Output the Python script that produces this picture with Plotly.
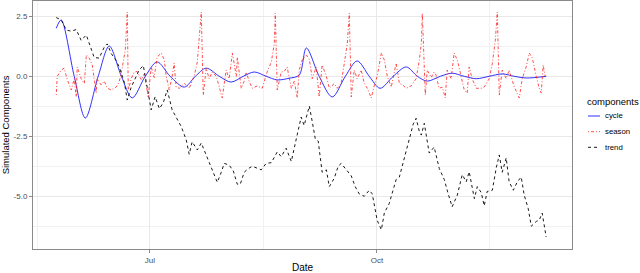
import pandas as pd
import plotly.graph_objects as go

# ---------------- data ----------------
start_date = "2017-05-24"   # day 0

cycle_day = [0.0, 2.0, 7.3, 11.8, 17.0, 21.5, 26.4, 30.8, 36.1, 40.9, 46.2, 51.9, 56.4, 60.8,
             66.1, 70.9, 75.8, 80.3, 85.1, 89.6, 94.4, 98.5, 101.4, 106.6, 111.9, 117.2, 122.0,
             126.9, 131.3, 136.6, 141.9, 146.4, 150.4, 155.7, 160.5, 165.4, 170.3, 175.5, 180.8,
             185.7, 190.5, 198.6]
cycle_val = [2.0, 2.35, 0.0, -1.74, 0.0, 1.26, 0.0, -0.9, 0.0, 0.6, 0.0, -0.45, 0.0, 0.34,
             0.0, -0.24, 0.0, 0.18, 0.0, -0.15, -0.08, 0.05, 1.18, 0.0, -0.86, 0.0, 0.64,
             0.0, -0.5, 0.0, 0.39, 0.0, -0.2, 0.0, 0.13, 0.0, -0.1, 0.0, 0.1,
             0.0, -0.07, 0.0]

season_day = [0.0, 0.4, 2.0, 3.2, 4.5, 6.1, 7.3, 8.1, 8.5, 10.1, 11.4, 12.2, 13.4, 14.6, 16.2,
              16.6, 18.2, 19.5, 20.7, 22.3, 24.3, 25.5, 26.8, 28.0, 28.8, 29.2, 30.4, 31.6,
              32.8, 34.5, 35.7, 37.3, 38.5, 39.7, 40.9, 42.6, 43.8, 44.6, 45.8, 47.0, 47.8,
              48.6, 49.9, 51.9, 53.9, 55.9, 57.2, 58.0, 58.8, 59.6, 60.8, 62.0, 63.2, 64.9,
              66.1, 67.3, 68.9, 70.1, 71.4, 73.0, 73.4, 75.0, 76.2, 77.0, 78.2, 79.5, 81.5,
              83.5, 85.5, 87.2, 88.4, 88.8, 89.6, 91.2, 92.4, 93.6, 95.3, 96.5, 97.7, 98.5,
              99.7, 101.4, 102.6, 103.8, 105.4, 106.6, 107.8, 109.5, 110.7, 112.7, 113.9,
              115.5, 116.8, 118.0, 118.8, 119.6, 120.8, 122.0, 123.6, 124.9, 126.1, 127.7,
              128.9, 130.1, 131.8, 133.0, 134.2, 135.8, 137.8, 139.1, 140.3, 141.9, 143.9,
              145.9, 147.2, 148.0, 148.4, 149.6, 150.4, 152.0, 153.2, 154.0, 155.2, 156.5,
              157.7, 158.5, 160.1, 161.3, 162.6, 164.2, 165.4, 166.6, 167.4, 168.6, 170.3,
              172.3, 173.5, 175.5, 176.8, 178.0, 178.8, 179.6, 180.8, 182.4, 183.6, 185.7,
              187.7, 188.9, 190.5, 191.8, 193.0, 194.6, 195.8, 196.6, 197.4, 198.2]
season_val = [-0.78, 0.0, 0.26, 0.34, -0.15, -0.57, -0.1, -0.86, 0.39, -0.1, -0.3, 0.89, 0.76, 0.47, -0.7,
              -0.1, -0.36, -0.2, -0.5, -0.57, -0.45, -0.25, 0.39, 1.1, 2.68, -0.57, -0.1, 0.18,
              0.2, -0.15, 0.1, -0.86, 0.39, -0.05, 0.8, 0.97, 0.68, 0.0, -0.57, 0.0, 0.55,
              -0.45, -0.5, -0.3, -0.5, 0.0, 0.6, 1.8, 2.68, -0.78, 0.34, -0.1, 0.18, 0.0,
              -0.5, -0.9, 0.26, -0.1, 0.97, 0.0, 0.8, -0.5, -0.2, 0.18, -0.2, -0.5, -0.4,
              -0.5, 0.18, 0.6, 1.37, 2.63, -0.57, 0.18, 0.2, 0.39, -0.5, -0.2, -0.9, 0.26,
              0.68, 0.89, 0.7, -0.1, 0.39, -0.86, 0.47, 0.0, -0.5, -0.3, -0.5,
              -0.3, 0.55, 1.37, 2.63, -0.86, 0.26, -0.1, 0.26, -0.3, -0.5, -0.9,
              -0.4, 0.0, 0.97, 0.68, 0.0, -0.45, 0.55, -0.3, -0.35, -0.5, -0.4,
              -0.1, 0.68, 1.37, 2.63, -0.78, 0.26, -0.05, 0.18, 0.05, -0.5, -0.45,
              -0.9, 0.26, -0.1, 0.97, 0.68, 0.0, -0.57, -0.7, 0.39, -0.1, -0.5,
              -0.5, -0.45, -0.1, 0.55, 1.5, 2.68, -0.78, 0.26, -0.1, 0.26, -0.45,
              -0.9, -0.1, 0.39, 0.97, 0.76, 0.0, -0.5, -0.7, 0.47, 0.0]

trend_day = [0.0, 2.0, 4.1, 6.1, 8.1, 10.1, 12.2, 14.2, 15.4, 17.4, 19.5, 20.7, 22.3, 24.3, 25.5,
             27.6, 28.8, 30.4, 32.4, 33.6, 35.3, 36.9, 38.5, 40.1, 41.8, 43.4, 45.0, 47.0, 49.1,
             50.7, 52.7, 53.9, 55.1, 57.2, 58.8, 60.4, 62.0, 63.6, 65.3, 66.9, 68.1, 70.1, 71.8,
             73.4, 74.6, 76.2, 77.8, 79.5, 81.5, 83.1, 85.1, 87.2, 89.6, 91.2, 93.2, 95.3, 96.9,
             98.1, 99.3, 100.5, 102.6, 103.8, 105.0, 106.2, 107.8, 109.5, 110.7, 112.7, 114.3,
             115.5, 117.6, 119.6, 121.2, 122.8, 124.9, 126.9, 128.1, 128.9, 130.1, 131.8, 133.0,
             135.0, 136.6, 137.8, 139.1, 141.1, 143.1, 144.7, 145.9, 147.2, 148.0, 149.2, 151.2,
             153.2, 155.3, 157.3, 158.9, 160.5, 162.6, 164.6, 166.2, 167.4, 169.5, 170.7, 172.3,
             173.5, 174.7, 176.8, 178.4, 179.6, 180.8, 182.4, 183.6, 185.3, 186.9, 188.5, 189.7,
             191.3, 192.6, 194.6, 195.8, 197.0, 198.6]
trend_val = [2.45, 2.35, 1.93, 1.88, 1.95, 1.5, 1.72, 1.1, 0.78, 0.76, 1.22, 1.35, 0.95, 0.65, 0.4,
             -0.25, -0.99, -0.45, -0.03, 0.26, 0.45, -0.5, -1.4, -0.85, -1.35, -1.1, -0.57, -1.4, -1.8,
             -2.1, -2.65, -3.25, -2.73, -3.07, -2.78, -3.2, -3.6, -4.0, -4.42, -4.0, -3.63, -3.7, -3.95,
             -4.5, -4.5, -4.0, -3.85, -3.75, -3.85, -3.9, -3.63, -3.6, -3.15, -3.35, -3.0, -3.55, -2.8,
             -2.2, -1.7, -2.05, -1.24, -1.9, -2.6, -2.7, -4.0, -3.9, -4.6, -4.25, -3.75,
             -3.63, -3.9, -4.15, -4.6, -4.9, -5.0, -4.75, -4.9, -5.4, -6.0, -6.4, -5.7,
             -5.3, -4.7, -4.3, -4.2, -3.4, -2.6, -2.0, -1.75, -2.3, -2.45, -1.96, -3.2,
             -2.95, -3.85, -4.3, -4.9, -5.44, -4.95, -4.1, -4.4, -3.98, -5.1, -4.6, -4.85,
             -5.4, -4.8, -4.75, -3.8, -3.28, -4.0, -3.4, -4.4, -4.75, -4.4, -4.2, -4.95,
             -5.5, -6.25, -6.05, -6.0, -5.7, -6.7]

components = ["cycle", "season", "trend"]
x_tick_vals = ["2017-07-01", "2017-10-01"]
x_tick_text = ["Jul", "Oct"]
x_minor_vals = ["2017-05-16 12:00", "2017-08-16", "2017-11-15 12:00"]
y_tick_vals = [2.5, 0.0, -2.5, -5.0]
y_tick_text = ["2.5", "0.0", "-2.5", "-5.0"]
y_minor_vals = [1.25, -1.25, -3.75, -6.25]

# ---------------- figure ----------------
base = pd.Timestamp(start_date)


def to_dates(days):
    return base + pd.to_timedelta(days, unit="D")


FONT = "Liberation Sans, Arial, sans-serif"
styles = {
    "cycle": dict(color="#1a1aff", dash="solid", width=0.9),
    "season": dict(color="#ff2020", dash="1px,2px,3px,2px", width=0.8),
    "trend": dict(color="#000000", dash="3px,3px", width=0.9),
}
series = {
    "cycle": (cycle_day, cycle_val, "spline"),
    "season": (season_day, season_val, "linear"),
    "trend": (trend_day, trend_val, "linear"),
}

fig = go.Figure()
for name in components:
    d, v, shape = series[name]
    fig.add_trace(go.Scatter(
        x=to_dates(d), y=v, mode="lines", name=name, showlegend=False,
        line=dict(shape=shape, smoothing=0.9 if shape == "spline" else None, **styles[name]),
    ))

axis_common = dict(
    showline=True, linecolor="#8a8a8a", linewidth=1, mirror=True,
    ticks="outside", ticklen=3, tickcolor="#8a8a8a",
    tickfont=dict(family=FONT, size=8, color="#4d4d4d"),
    showgrid=True, gridcolor="#e8e8e8", gridwidth=1, zeroline=False,
)

fig.update_layout(
    width=640, height=273,
    margin=dict(l=33, r=68, t=1, b=24),
    paper_bgcolor="white", plot_bgcolor="white",
    font=dict(family=FONT, color="black"),
    xaxis=dict(
        **axis_common,
        type="date",
        range=["2017-05-14 14:00", "2017-12-19 02:00"],
        tickmode="array", tickvals=x_tick_vals, ticktext=x_tick_text,
        minor=dict(tickmode="array", tickvals=x_minor_vals, showgrid=True,
                   gridcolor="#f1f1f1", gridwidth=1, ticks=""),
        title=dict(text="Date", font=dict(family=FONT, size=10, color="black"), standoff=5),
        automargin=False,
    ),
    yaxis=dict(
        **axis_common,
        range=[-7.2, 3.14],
        tickmode="array", tickvals=y_tick_vals, ticktext=y_tick_text,
        minor=dict(tickmode="array", tickvals=y_minor_vals, showgrid=True,
                   gridcolor="#f1f1f1", gridwidth=1, ticks=""),
        title=dict(text="Simulated Components", font=dict(family=FONT, size=9.5, color="black"),
                   standoff=5),
        automargin=False,
    ),
)


# custom legend (ggplot style)
def px_x(p):
    return (p - 33) / 539.0


def px_y(p):
    return 1 - (p - 1) / 248.0


fig.add_annotation(text="components", xref="paper", yref="paper", x=px_x(585), y=px_y(101.5),
                   xanchor="left", yanchor="middle", showarrow=False,
                   font=dict(family=FONT, size=9.5, color="black"))
legend_rows = [116, 131.7, 147.3]
for name, row in zip(components, legend_rows):
    st = styles[name]
    fig.add_shape(type="line", xref="paper", yref="paper",
                  x0=px_x(588), x1=px_x(600), y0=px_y(row), y1=px_y(row),
                  line=dict(color=st["color"], dash=st["dash"], width=st["width"]))
    fig.add_annotation(text=name, xref="paper", yref="paper", x=px_x(603), y=px_y(row),
                       xanchor="left", yanchor="middle", showarrow=False,
                       font=dict(family=FONT, size=7.8, color="black"))

fig.write_html("out.html",
               config={"displayModeBar": False, "staticPlot": True},
               post_script="document.body.style.margin='0px';document.body.style.overflow='hidden';")
